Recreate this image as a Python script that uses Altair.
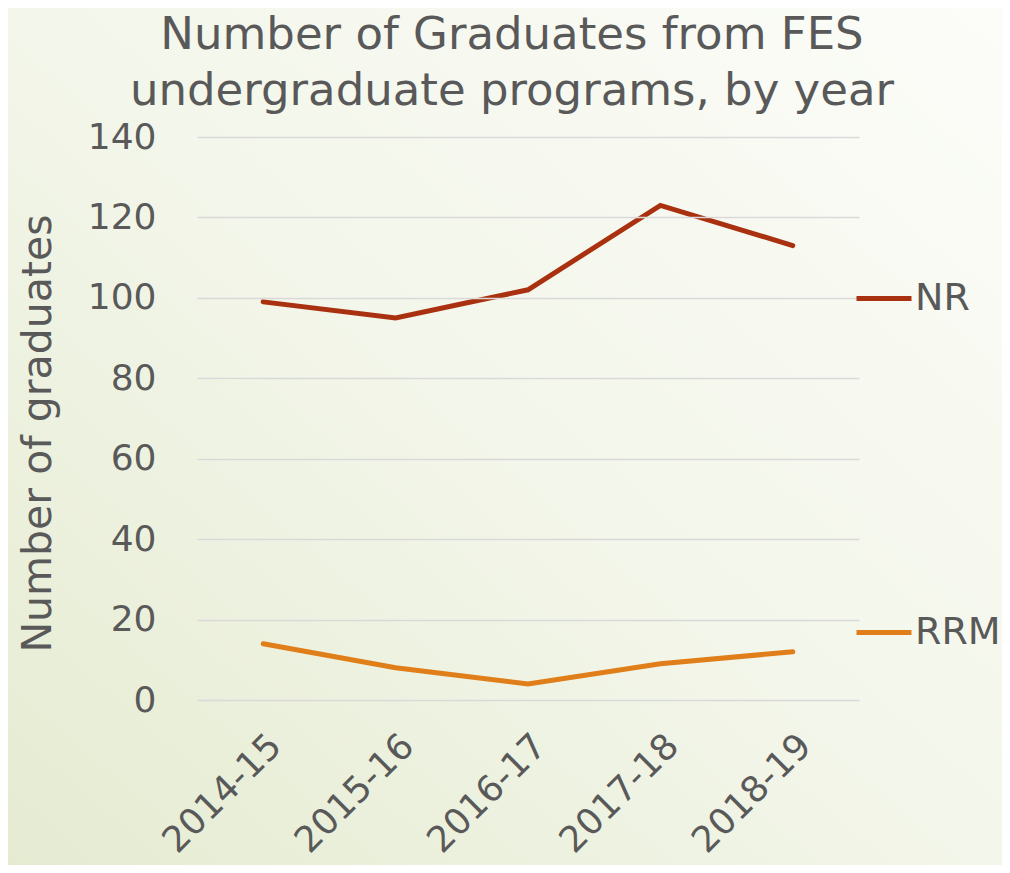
import altair as alt
import pandas as pd

years = ["2014-15", "2015-16", "2016-17", "2017-18", "2018-19"]
nr = [99, 95, 102, 123, 113]
rrm = [14, 8, 4, 9, 12]
series = ["NR", "RRM"]
colors = ["#A9310F", "#E07E1A"]

rows = []
for y, v in zip(years, nr):
    rows.append({"year": y, "program": "NR", "grads": v})
for y, v in zip(years, rrm):
    rows.append({"year": y, "program": "RRM", "grads": v})
df = pd.DataFrame(rows)

W, H = 662, 563
PL, PT, PR, PB = 189, 129, 143, 165
FONT = "DejaVu Sans"
GREY = "#595959"

bg = alt.Chart(pd.DataFrame({"a": [0]})).mark_rect(
    fill=alt.Gradient(
        gradient="linear",
        stops=[
            alt.GradientStop(color="#E5EBD1", offset=0),
            alt.GradientStop(color="#F3F6EA", offset=0.5),
            alt.GradientStop(color="#FCFDF9", offset=1),
        ],
        x1=0, y1=1, x2=1, y2=0,
    ),
    clip=False,
).encode(
    x=alt.value(-PL - 10), x2=alt.value(W + PR + 10),
    y=alt.value(-PT - 10), y2=alt.value(H + PB + 10),
)

lines = alt.Chart(df).mark_line(strokeWidth=5, strokeCap="round").encode(
    x=alt.X("year:N", sort=years, scale=alt.Scale(type="point", padding=0.5),
            axis=alt.Axis(title=None, labelAngle=-45, labelAlign="right",
                          labelBaseline="top", labelPadding=28,
                          labelFontSize=36, labelFont=FONT, labelColor=GREY,
                          ticks=False, domain=False, grid=False, zindex=1)),
    y=alt.Y("grads:Q", scale=alt.Scale(domain=[0, 140], nice=False),
            axis=alt.Axis(values=[0, 20, 40, 60, 80, 100, 120, 140],
                          title="Number of graduates", titleFont=FONT,
                          titleFontSize=41, titleFontWeight="normal",
                          titleColor=GREY, titleAngle=-90,
                          titleX=-147, titleY=296, titleAlign="center",
                          titleBaseline="alphabetic",
                          labelFontSize=36, labelFont=FONT, labelColor=GREY,
                          labelPadding=41, ticks=False, domain=False,
                          grid=True, gridColor="#D9D9D9", gridWidth=1.5,
                          zindex=1)),
    color=alt.Color("program:N", scale=alt.Scale(domain=series, range=colors),
                    legend=alt.Legend(title=None, orient="none",
                                      legendX=657, legendY=131.5,
                                      symbolType="stroke", symbolSize=3025,
                                      symbolStrokeWidth=5, labelFontSize=38,
                                      labelFont=FONT, labelColor=GREY,
                                      labelOffset=1, rowPadding=285,
                                      padding=0, labelBaseline="middle",
                                      zindex=1)),
)

chart = alt.layer(bg, lines).properties(
    width=W, height=H,
    padding={"left": PL, "top": PT, "right": PR, "bottom": PB},
    autosize=alt.AutoSizeParams(type="none"),
    title=alt.Title(
        text=["Number of Graduates from FES", "undergraduate programs, by year"],
        font=FONT, fontSize=45, fontWeight="normal", color=GREY,
        anchor="middle", dx=-16, offset=-116, lineHeight=56, zindex=1,
    ),
).configure_view(stroke=None).configure(background="#F4F6EC")

chart.save("out.html", embed_options={"renderer": "svg", "actions": False})
